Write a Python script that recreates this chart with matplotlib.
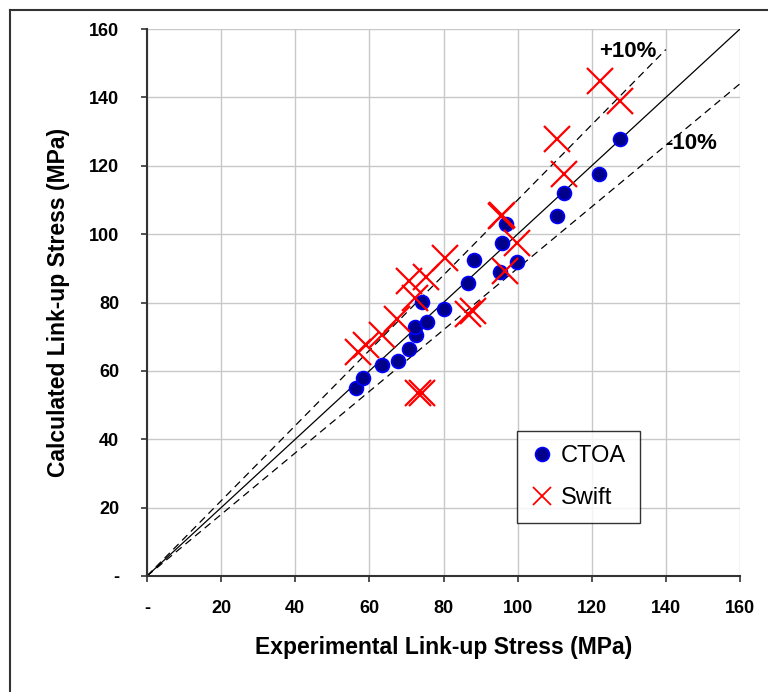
import matplotlib
matplotlib.use("Agg")
import matplotlib.pyplot as plt
from matplotlib.lines import Line2D
import numpy as np

ctoa_x = [56.4, 58.4, 63.5, 67.6, 70.6, 72.7, 72.2, 75.6, 74.1, 80.2, 86.7, 88.3, 95.2, 95.8, 99.9, 96.9, 110.5, 112.6, 122.0, 127.6]
ctoa_y = [55.1, 57.8, 61.6, 62.9, 66.5, 70.4, 72.7, 74.2, 80.2, 78.1, 85.8, 92.3, 89.0, 97.4, 91.8, 103.0, 105.3, 112.1, 117.6, 127.9]

swift_x = [57.0, 59.0, 63.5, 67.5, 70.6, 72.2, 75.4, 80.3, 73.0, 74.3, 86.5, 88.0, 95.4, 95.8, 99.8, 96.6, 110.5, 112.6, 122.2, 127.6]
swift_y = [65.5, 67.6, 70.5, 75.2, 86.2, 81.4, 87.5, 92.9, 53.4, 53.4, 76.6, 77.6, 105.4, 105.7, 97.3, 89.3, 127.9, 117.6, 144.8, 138.9]

ticks = [0, 20, 40, 60, 80, 100, 120, 140, 160]
tick_labels = ["-", "20", "40", "60", "80", "100", "120", "140", "160"]

plt.rcParams['font.family'] = ['Liberation Sans', 'DejaVu Sans']

W, H = 768, 692
fig = plt.figure(figsize=(W / 100, H / 100), dpi=100)
ax = fig.add_axes([147 / W, 1 - 576 / H, (740 - 147) / W, (576 - 29) / H])

# outer frame (left and top edges visible)
fig.add_artist(Line2D([10 / W, 10 / W], [0, 1 - 10 / H], color='#333333', lw=1.5, transform=fig.transFigure))
fig.add_artist(Line2D([10 / W, 1], [1 - 10 / H, 1 - 10 / H], color='#333333', lw=1.5, transform=fig.transFigure))

ax.set_xlim(0, 160)
ax.set_ylim(0, 160)
ax.set_xticks(ticks)
ax.set_yticks(ticks)
ax.set_xticklabels(tick_labels, fontsize=13, fontweight='bold')
ax.set_yticklabels(tick_labels, fontsize=13, fontweight='bold')
ax.grid(True, color='#c8c8c8', lw=1.0)
ax.set_axisbelow(True)
for s in ['top', 'right']:
    ax.spines[s].set_visible(False)
for s in ['left', 'bottom']:
    ax.spines[s].set_color('#333333')
    ax.spines[s].set_linewidth(1.5)
ax.tick_params(direction='out', length=4, width=1.2, color='#333333', pad=13)
ax.tick_params(axis='y', pad=16)

# reference lines
line = np.array([0, 160])
ax.plot(line, line, color='black', lw=0.9)
ax.plot([0, 140], [0, 140 * 1.1], color='black', lw=0.9, ls=(0, (6, 4)))
ax.plot([0, 160], [0, 160 * 0.9], color='black', lw=0.9, ls=(0, (6, 4)))

ax.plot(ctoa_x, ctoa_y, ls='none', marker='o', ms=10, mfc='#00008b', mec='#0000ff', mew=1.2, zorder=3)
ax.plot(swift_x, swift_y, ls='none', marker='x', ms=19, color='#ff0000', mew=1.6, zorder=4)

ax.text(129.8, 153.5, '+10%', fontsize=16, fontweight='bold', ha='center', va='center')
ax.text(146.8, 126.5, '-10%', fontsize=16, fontweight='bold', ha='center', va='center')

h1 = Line2D([], [], ls='none', marker='o', ms=10, mfc='#00008b', mec='#0000ff', mew=1.2)
h2 = Line2D([], [], ls='none', marker='x', ms=13, color='#ff0000', mew=1.3)
leg = ax.legend([h1, h2], ['CTOA', 'Swift'], loc='upper left',
                bbox_to_anchor=((517 - 147) / 593, (576 - 431) / 547),
                borderaxespad=0, fontsize=17, frameon=True, fancybox=False, edgecolor='black',
                borderpad=0.6, handlelength=0.9, handletextpad=0.35, labelspacing=0.85)
leg.get_frame().set_linewidth(1.0)

ax.set_xlabel('Experimental Link-up Stress (MPa)', fontsize=16.5, fontweight='bold', labelpad=14)
ax.set_ylabel('Calculated Link-up Stress (MPa)', fontsize=16.5, fontweight='bold', labelpad=14)

fig.savefig('out.png', dpi=100)
